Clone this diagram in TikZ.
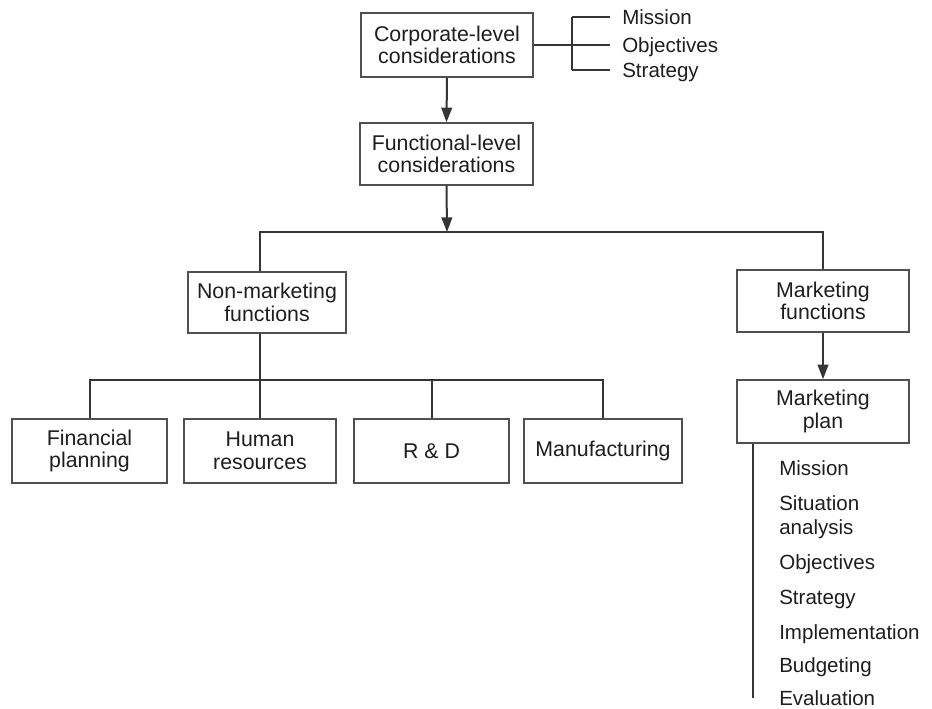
\documentclass[tikz,border=0pt]{standalone}
\usepackage{fontspec}
\setmainfont{Liberation Sans}
\usetikzlibrary{arrows.meta}
\definecolor{inkline}{HTML}{353535}
\definecolor{boxline}{HTML}{505050}
\definecolor{inktext}{HTML}{1E1E1E}
\begin{document}
\begin{tikzpicture}[x=0.75pt,y=-0.75pt,
  every node/.style={text=inktext},
  box/.style={draw=boxline,line width=1.1pt,align=center,inner sep=0pt,
    font=\fontsize{16}{17}\selectfont},
  conn/.style={draw=inkline,line width=1.5pt},
  arrowconn/.style={conn,-{Triangle[length=11pt,width=8pt]}},
  sidelabel/.style={anchor=west,inner xsep=9pt,inner ysep=0pt,
    text height=11pt,text depth=0pt,font=\fontsize{15.4}{18}\selectfont},
  planitem/.style={anchor=base west,inner sep=0pt,
    font=\fontsize{15.4}{18}\selectfont}]
\useasboundingbox[fill=white] (0,0) rectangle (932,709);

% boxes
\node[box,minimum width=129pt,minimum height=48pt] (corp) at (447,45)
  {Corporate-level\\considerations};
\node[box,minimum width=129.75pt,minimum height=46.5pt] (func) at (446.5,154)
  {Functional-level\\considerations};
\node[box,minimum width=118.5pt,minimum height=45.75pt] (nonmkt) at (267,302.5)
  {Non-marketing\\functions};
\node[box,minimum width=129pt,minimum height=46.5pt] (mkt) at (823,301)
  {Marketing\\functions};
\node[box,minimum width=129pt,minimum height=47.25pt] (plan) at (823,411.5)
  {Marketing\\plan};
\node[box,minimum width=116.25pt,minimum height=48pt] (fin) at (89.5,451)
  {Financial\\planning};
\node[box,minimum width=114pt,minimum height=48pt] (hr) at (260,451)
  {Human\\resources};
\node[box,minimum width=116.25pt,minimum height=48pt] (rd) at (431.5,451)
  {R \& D};
\node[box,minimum width=118.5pt,minimum height=48pt] (mfg) at (603,451)
  {Manufacturing};

% corporate-level items
\node[sidelabel] (m1) at (610,17.5) {Mission};
\node[sidelabel] (m2) at (610,45) {Objectives};
\node[sidelabel] (m3) at (610,70) {Strategy};

% marketing plan items
\node[planitem] (p1) at (779,475) {Mission};
\node[planitem,align=left,anchor=north west] (p2) at (779,495.5)
  {Situation\\analysis};
\node[planitem] (p3) at (779,569) {Objectives};
\node[planitem] (p4) at (779,604) {Strategy};
\node[planitem] (p5) at (779,639) {Implementation};
\node[planitem] (p6) at (779,672) {Budgeting};
\node[planitem] (p7) at (779,705) {Evaluation};

% junction points
\coordinate (brk) at (572,45);
\coordinate (topbus) at (447,232);
\coordinate (lowbus) at (260,380);
\coordinate (listend) at (753,698);

% bracket of corporate items
\draw[conn] (corp.east) -- (brk);
\draw[conn] (brk |- m1.west) -- (brk |- m3.west);
\draw[conn] (brk |- m1.west) -- (m1.west);
\draw[conn] (brk |- m2.west) -- (m2.west);
\draw[conn] (brk |- m3.west) -- (m3.west);

% main flow
\draw[arrowconn] (corp.south) -- (func.north);
\draw[arrowconn] (func.south) -- (topbus);
\draw[conn] (hr.north |- nonmkt.north) |- (topbus) -| (mkt.north);
\draw[conn] (hr.north |- nonmkt.south) -- (hr.north);
\draw[conn] (fin.north) |- (lowbus) -| (mfg.north);
\draw[conn] (rd.north) -- (rd.north |- lowbus);
\draw[arrowconn] (mkt.south) -- (plan.north);
\draw[conn] (plan.south -| listend) -- (listend);
\end{tikzpicture}
\end{document}
